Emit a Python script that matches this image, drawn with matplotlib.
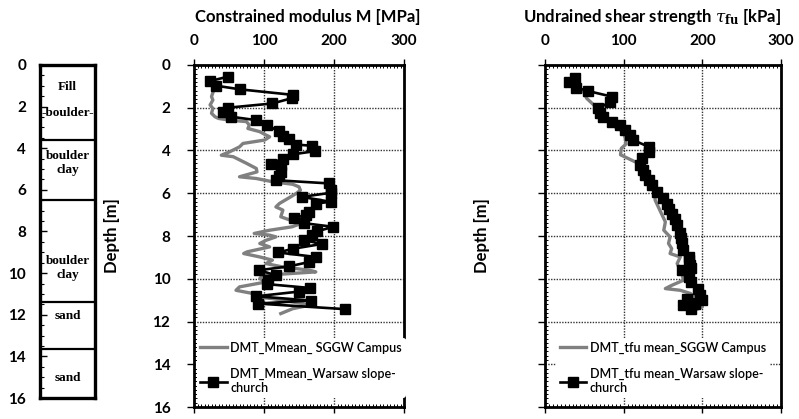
import matplotlib
matplotlib.use("Agg")
import matplotlib.pyplot as plt
from matplotlib.ticker import MultipleLocator

plt.rcParams['font.family'] = ['Lato', 'DejaVu Sans']
plt.rcParams['mathtext.fontset'] = 'dejavuserif'

# ---------------- data ----------------
layer_bounds = [3.6, 6.5, 11.4, 13.65]
layer_labels = ["Fill", "-boulder-", "boulder\nclay", "boulder\nclay", "sand", "sand"]
layer_label_depths = [1.05, 2.3, 4.7, 9.75, 12.05, 15.05]

m_warsaw_depth = [0.55, 0.75, 0.97, 1.14, 1.40, 1.55, 1.80, 2.00, 2.20, 2.42, 2.58, 2.80, 3.10, 3.32,
                  3.48, 3.72, 3.78, 4.03, 4.18, 4.38, 4.62, 4.70, 5.00, 5.20, 5.39, 5.54, 5.85, 5.98,
                  6.17, 6.40, 6.48, 6.87, 7.00, 7.18, 7.40, 7.57, 7.78, 7.96, 8.20, 8.37, 8.60, 8.77,
                  8.98, 9.22, 9.42, 9.60, 9.84, 10.05, 10.25, 10.43, 10.60, 10.82, 11.02, 11.16, 11.42]
m_warsaw_val = [48, 23, 32, 66, 142, 140, 112, 48, 42, 53, 89, 104, 121, 127,
                136, 145, 169, 173, 141, 127, 110, 124, 124, 122, 117, 193, 195, 195,
                154, 195, 174, 164, 160, 143, 157, 199, 176, 169, 157, 183, 141, 120,
                174, 164, 136, 93, 117, 105, 104, 165, 150, 89, 167, 91, 215]

m_sggw_depth = [1.20, 1.48, 1.64, 1.87, 2.03, 2.26, 2.42, 2.50, 2.58, 2.65, 2.81, 2.97, 3.12, 3.28,
                3.36, 3.51, 3.67, 3.83, 4.06, 4.22, 4.29, 4.60, 4.84, 5.00, 5.23, 5.31, 5.46, 5.58,
                5.70, 5.86, 6.01, 6.17, 6.48, 6.64, 6.79, 7.10, 7.30, 7.45, 7.57, 7.73, 7.88, 7.96,
                8.04, 8.20, 8.35, 8.51, 8.74, 8.82, 8.98, 9.13, 9.29, 9.45, 9.60, 9.68, 9.76, 9.84,
                9.99, 10.15, 10.38, 10.54, 10.69, 10.85, 10.93, 11.16, 11.24, 11.40, 11.63]
m_sggw_val = [28, 25, 27, 23, 27, 25, 30, 35, 51, 75, 79, 77, 94, 103,
              108, 101, 70, 65, 51, 39, 56, 75, 89, 90, 65, 89, 112, 141,
              150, 152, 146, 138, 122, 117, 127, 124, 141, 150, 140, 108, 86, 108,
              117, 103, 94, 108, 76, 71, 94, 112, 103, 127, 165, 174, 136, 98,
              94, 103, 65, 60, 84, 89, 112, 155, 165, 141, 124]

t_warsaw_depth = [0.62, 0.81, 1.06, 1.22, 1.48, 1.72, 2.03, 2.25, 2.42, 2.65, 2.81, 3.04, 3.28, 3.51,
                  3.83, 4.06, 4.37, 4.68, 4.92, 5.15, 5.39, 5.62, 5.93, 6.20, 6.48, 6.75, 6.95, 7.20,
                  7.49, 7.88, 8.10, 8.35, 8.66, 8.98, 9.13, 9.35, 9.52, 9.60, 9.91, 10.15, 10.46,
                  10.77, 11.00, 10.93, 11.16, 11.24, 11.40]
t_warsaw_val = [38, 31, 40, 55, 85, 83, 68, 70, 74, 85, 95, 102, 108, 112,
                132, 132, 123, 121, 125, 127, 132, 136, 142, 150, 155, 158, 161, 165,
                168, 172, 173, 174, 176, 183, 183, 184, 185, 174, 183, 185, 195,
                197, 200, 180, 191, 176, 185]

t_sggw_depth = [1.25, 1.56, 1.87, 2.26, 2.65, 2.89, 3.12, 3.43, 3.70, 3.90, 4.20, 4.45, 4.68, 5.00,
                5.39, 5.93, 6.32, 6.48, 7.34, 7.73, 8.04, 8.35, 8.59, 8.82, 8.98, 9.29, 9.76, 10.07,
                10.31, 10.46, 10.54, 10.69, 11.00, 11.32, 11.55]
t_sggw_val = [49, 53, 62, 68, 81, 89, 100, 102, 103, 97, 96, 110, 123, 127,
              136, 140, 140, 142, 153, 151, 159, 157, 161, 159, 172, 168, 174, 176,
              161, 153, 172, 185, 195, 200, 185]

depth_ticks = list(range(0, 17, 2))
x_ticks = [0, 100, 200, 300]
grid_depths = [2, 4, 6, 8, 10, 12, 14]

# ---------------- figure ----------------
W, H = 799, 419
fig = plt.figure(figsize=(W / 100, H / 100), dpi=100)


def frac(x0, y0, x1, y1):
    return [x0 / W, 1 - y1 / H, (x1 - x0) / W, (y1 - y0) / H]


tick_font = dict(fontsize=11, fontweight='bold')

# ---- soil column ----
axL = fig.add_axes(frac(40, 65, 95, 398))
axL.set_ylim(16, 0)
axL.set_xlim(0, 1)
axL.set_xticks([])
axL.set_yticks(depth_ticks)
axL.set_yticklabels([str(t) for t in depth_ticks], **tick_font)
axL.yaxis.set_minor_locator(MultipleLocator(0.5))
axL.tick_params(axis='y', which='major', direction='in', length=5, width=1, pad=10)
axL.tick_params(axis='y', which='minor', direction='in', length=3, width=0.8)
for s in axL.spines.values():
    s.set_linewidth(2.4)
for b in layer_bounds:
    axL.axhline(b, color='black', lw=1.6)
for lab, d in zip(layer_labels, layer_label_depths):
    axL.text(0.5, d, lab, ha='center', va='center', fontsize=9.5, fontweight='bold',
             family=['Liberation Serif', 'DejaVu Serif'], linespacing=1.25)


def style_axis(ax, show_ylabels):
    ax.set_xlim(0, 300)
    ax.set_ylim(16, 0)
    ax.xaxis.tick_top()
    ax.set_xticks(x_ticks)
    ax.set_xticklabels([str(t) for t in x_ticks], **tick_font)
    ax.set_yticks(depth_ticks)
    if show_ylabels:
        ax.set_yticklabels([str(t) for t in depth_ticks], **tick_font)
    else:
        ax.set_yticklabels([])
    ax.xaxis.set_minor_locator(MultipleLocator(5))
    ax.yaxis.set_minor_locator(MultipleLocator(0.2))
    ax.tick_params(axis='x', which='major', direction='out', length=4, width=1, pad=8,
                   top=True, bottom=True)
    ax.tick_params(axis='x', which='minor', direction='in', length=2.5, width=0.7,
                   top=True, bottom=True)
    ax.tick_params(axis='y', which='major', direction='out', length=5, width=1, pad=12)
    ax.tick_params(axis='y', which='minor', direction='in', length=2.5, width=0.7)
    for s in ax.spines.values():
        s.set_linewidth(2)
    for g in grid_depths:
        ax.axhline(g, color='#333333', lw=1.0, ls=(0, (1, 1)), zorder=0)
    for g in x_ticks[1:3]:
        ax.axvline(g, color='#333333', lw=1.0, ls=(0, (1, 1)), zorder=0)
    ax.set_ylabel("Depth [m]", fontsize=12, fontweight='bold')


def leg_kw(x0):
    return dict(loc='upper left', bbox_to_anchor=(x0, 0.21), frameon=True,
                facecolor='white', edgecolor='none', framealpha=1, fontsize=9,
                handlelength=2.1, handletextpad=0.3, labelspacing=1.15,
                borderaxespad=0.2, borderpad=0.3)


# ---- constrained modulus ----
axM = fig.add_axes(frac(194, 65, 404, 407))
style_axis(axM, True)
axM.yaxis.set_label_coords(-0.35, 0.5)
axM.plot(m_sggw_val, m_sggw_depth, color='#808080', lw=2.4,
         label="DMT_Mmean_ SGGW Campus", zorder=2)
axM.plot(m_warsaw_val, m_warsaw_depth, color='black', lw=1.9, marker='s', ms=6.5,
         label="DMT_Mmean_Warsaw slope-\nchurch", zorder=3)
axM.text(0.54, 1.14, "Constrained modulus M [MPa]", transform=axM.transAxes,
         ha='center', va='center', fontsize=12, fontweight='bold')
legM = axM.legend(**leg_kw(0.0))
for t in legM.get_texts():
    t.set_fontweight('semibold')
legM.set_zorder(5)

# ---- undrained shear strength ----
axT = fig.add_axes(frac(545, 65, 781, 407))
style_axis(axT, False)
axT.yaxis.set_label_coords(-0.233, 0.5)
axT.plot(t_sggw_val, t_sggw_depth, color='#808080', lw=2.4,
         label="DMT_tfu mean_SGGW Campus", zorder=2)
axT.plot(t_warsaw_val, t_warsaw_depth, color='black', lw=1.9, marker='s', ms=7.5,
         label="DMT_tfu mean_Warsaw slope-\nchurch", zorder=3)
axT.text(0.453, 1.14, r"Undrained shear strength $\tau_{\mathsf{\mathbf{fu}}}$ [kPa]",
         transform=axT.transAxes, ha='center', va='center', fontsize=12, fontweight='bold')
legT = axT.legend(**leg_kw(0.035))
for t in legT.get_texts():
    t.set_fontweight('semibold')
legT.set_zorder(5)

fig.savefig("out.png", dpi=100)
